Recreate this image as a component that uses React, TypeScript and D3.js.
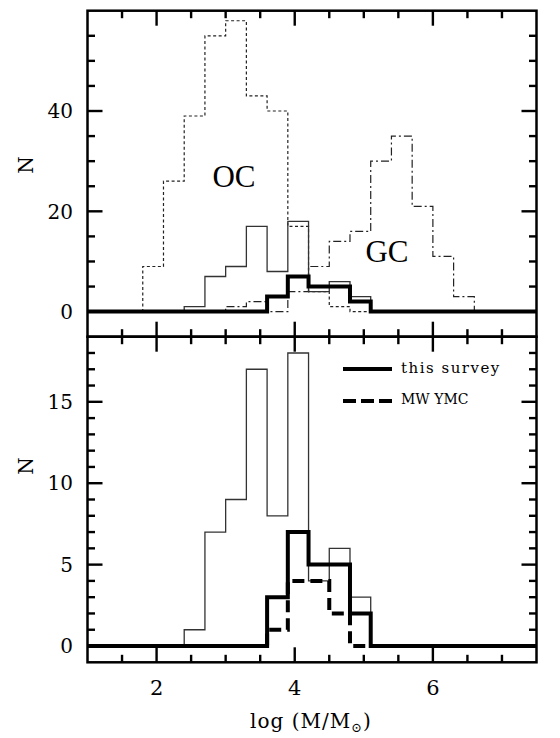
import React, { useEffect, useRef } from 'react';
import * as d3 from 'd3';

// histogram bins (left edges, width 0.3 dex)
const binEdges = [1.8, 2.1, 2.4, 2.7, 3.0, 3.3, 3.6, 3.9, 4.2, 4.5, 4.8, 5.1, 5.4, 5.7, 6.0, 6.3, 6.6, 6.9];
const ocCounts = [9, 26, 39, 55, 58, 43, 40, 17, 4, 1, 0, 0, 0, 0, 0, 0, 0];
const gcCounts = [0, 0, 0, 0, 1, 2, 0, 4, 9, 14, 16, 30, 35, 21, 11, 3, 0];
const refCounts = [0, 0, 1, 7, 9, 17, 8, 18, 4, 6, 3, 0, 0, 0, 0, 0, 0];
const surveyCounts = [0, 0, 0, 0, 0, 0, 3, 7, 5, 5, 2, 0, 0, 0, 0, 0, 0];
const ymcCounts = [0, 0, 0, 0, 0, 0, 1, 4, 4, 2, 0, 0, 0, 0, 0, 0, 0];

const xMajor = [2, 4, 6];
const topLabels = [0, 20, 40];
const bottomLabels = [0, 5, 10, 15];

const serif = 'DejaVu Serif';

function App() {
    const ref = useRef<SVGSVGElement | null>(null);

    useEffect(() => {
        const svg = d3.select(ref.current);
        svg.selectAll('*').remove();

        const left = 87.5, right = 536.5, top = 10.7, mid = 336.7, bottom = 662.3;

        const x = d3.scaleLinear().domain([1, 7.5]).range([left, right]);
        const yTop = d3.scaleLinear().domain([-5, 60]).range([mid, top]);
        const yBot = d3.scaleLinear().domain([-1, 19]).range([bottom, mid]);

        const stepPts = (counts: number[]) => {
            const pts: [number, number][] = [[1, 0]];
            counts.forEach((c, i) => pts.push([binEdges[i], c]));
            pts.push([binEdges[binEdges.length - 1], 0]);
            pts.push([7.5, 0]);
            return pts;
        };

        const drawPanel = (y: d3.ScaleLinear<number, number>, y0: number, y1: number,
            minorStep: number, majorStep: number, labels: number[]) => {
            const g = svg.append('g');
            // ticks on all four sides
            const xMinor = d3.range(1.5, 7.5, 0.5);
            xMinor.forEach(v => {
                const len = xMajor.includes(v) ? 15 : 7.5;
                g.append('line').attr('x1', x(v)).attr('x2', x(v))
                    .attr('y1', y1).attr('y2', y1 + len)
                    .attr('stroke', '#000').attr('stroke-width', 2.4);
                g.append('line').attr('x1', x(v)).attr('x2', x(v))
                    .attr('y1', y0).attr('y2', y0 - len)
                    .attr('stroke', '#000').attr('stroke-width', 2.4);
            });
            const [lo, hi] = y.domain();
            const yTicks = d3.range(Math.ceil(lo / minorStep) * minorStep, hi + 0.001, minorStep)
                .filter(v => y(v) > y1 + 1 && y(v) < y0 - 1);
            yTicks.forEach(v => {
                const len = Math.abs(v % majorStep) < 1e-6 ? 15 : 7.5;
                g.append('line').attr('x1', left).attr('x2', left + len)
                    .attr('y1', y(v)).attr('y2', y(v))
                    .attr('stroke', '#000').attr('stroke-width', 2.4);
                g.append('line').attr('x1', right).attr('x2', right - len)
                    .attr('y1', y(v)).attr('y2', y(v))
                    .attr('stroke', '#000').attr('stroke-width', 2.4);
            });
            g.selectAll('.ylab').data(labels).enter().append('text')
                .attr('x', 73).attr('y', d => y(d))
                .attr('dy', '0.36em')
                .attr('text-anchor', 'end')
                .attr('font-family', serif).attr('font-size', 20)
                .text(d => d);
            return g;
        };

        const line = (y: d3.ScaleLinear<number, number>) => d3.line<[number, number]>()
            .x(d => x(d[0])).y(d => y(d[1])).curve(d3.curveStepAfter);

        // ---- top panel
        const gt = drawPanel(yTop, mid, top, 5, 20, topLabels);
        const lt = line(yTop);
        gt.append('path').attr('d', lt(stepPts(ocCounts)) as string)
            .attr('fill', 'none').attr('stroke', '#222').attr('stroke-width', 1.2)
            .attr('stroke-dasharray', '3,2.5');
        gt.append('path').attr('d', lt(stepPts(gcCounts)) as string)
            .attr('fill', 'none').attr('stroke', '#222').attr('stroke-width', 1.2)
            .attr('stroke-dasharray', '8,3,2,3');
        gt.append('path').attr('d', lt(stepPts(refCounts)) as string)
            .attr('fill', 'none').attr('stroke', '#333').attr('stroke-width', 1.3);
        gt.append('path').attr('d', lt(stepPts(surveyCounts)) as string)
            .attr('fill', 'none').attr('stroke', '#000').attr('stroke-width', 4);
        gt.append('text').attr('x', 234).attr('y', 187)
            .attr('text-anchor', 'middle').attr('font-family', 'Liberation Serif')
            .attr('font-size', 31).text('OC');
        gt.append('text').attr('x', 387).attr('y', 262)
            .attr('text-anchor', 'middle').attr('font-family', 'Liberation Serif')
            .attr('font-size', 31).text('GC');

        // ---- bottom panel
        const gb = drawPanel(yBot, bottom, mid, 1, 5, bottomLabels);
        const lb = line(yBot);
        gb.append('path').attr('d', lb(stepPts(refCounts)) as string)
            .attr('fill', 'none').attr('stroke', '#333').attr('stroke-width', 1.3);
        gb.append('path').attr('d', lb(stepPts(ymcCounts)) as string)
            .attr('fill', 'none').attr('stroke', '#000').attr('stroke-width', 4)
            .attr('stroke-dasharray', '12,6');
        gb.append('path').attr('d', lb(stepPts(surveyCounts)) as string)
            .attr('fill', 'none').attr('stroke', '#000').attr('stroke-width', 4);

        // legend
        gb.append('line').attr('x1', 343).attr('x2', 392).attr('y1', 369).attr('y2', 369)
            .attr('stroke', '#000').attr('stroke-width', 4);
        gb.append('text').attr('x', 401).attr('y', 368).attr('dy', '0.3em')
            .attr('font-family', serif).attr('font-size', 15).attr('letter-spacing', 1.5)
            .text('this survey');
        gb.append('line').attr('x1', 343).attr('x2', 392).attr('y1', 401).attr('y2', 401)
            .attr('stroke', '#000').attr('stroke-width', 4).attr('stroke-dasharray', '13,5');
        gb.append('text').attr('x', 401).attr('y', 400).attr('dy', '0.3em')
            .attr('font-family', serif).attr('font-size', 14).text('MW YMC');

        // frames
        [[top, mid], [mid, bottom]].forEach(([a, b]) => {
            svg.append('rect').attr('x', left).attr('y', a)
                .attr('width', right - left).attr('height', b - a)
                .attr('fill', 'none').attr('stroke', '#000').attr('stroke-width', 2.5);
        });

        // x tick labels
        svg.selectAll('.xlab').data(xMajor).enter().append('text')
            .attr('x', d => x(d)).attr('y', 695)
            .attr('text-anchor', 'middle')
            .attr('font-family', serif).attr('font-size', 21)
            .text(d => d);

        // axis titles
        const xt = svg.append('text').attr('x', 311).attr('y', 728)
            .attr('text-anchor', 'middle').attr('font-family', serif).attr('font-size', 20)
            .attr('letter-spacing', 1);
        xt.append('tspan').text('log (M/M');
        xt.append('tspan').attr('font-size', 13).attr('dy', 4).text('\u2299');
        xt.append('tspan').attr('dy', -4).text(')');

        [165, 466].forEach(cy => {
            svg.append('text').attr('transform', `translate(26,${cy}) rotate(-90)`)
                .attr('text-anchor', 'middle').attr('dy', '0.36em')
                .attr('font-family', serif).attr('font-size', 20).text('N');
        });
    }, []);

    return (
        <svg ref={ref} width={560} height={738}
            style={{ position: 'absolute', left: 0, top: 0, background: '#fff' }} />
    );
}

export default App;
